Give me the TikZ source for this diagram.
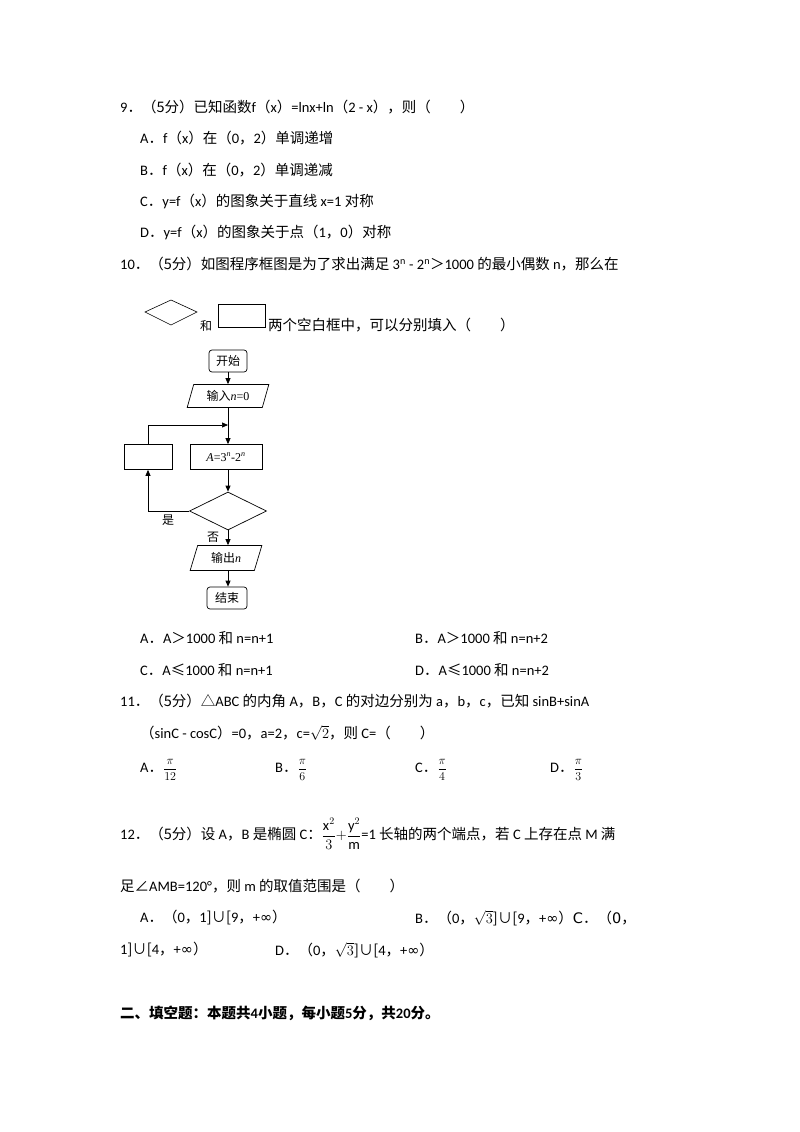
\documentclass[tikz,border=0pt]{standalone}
\usepackage{amsmath}
\usepackage{fontspec}
\setmainfont{Carlito}
\newfontfamily\cjk{Noto Sans CJK SC}
\newfontfamily\srf{Liberation Serif}
\newfontfamily\sym{DejaVu Sans}
\usetikzlibrary{shapes.geometric,arrows.meta}
\newcommand{\zh}[1]{{\cjk #1}}
\newcommand{\dt}{{\cjk ．}}
\begin{document}
\begin{tikzpicture}[x=1pt,y=-1pt,
  t/.style={anchor=west,inner sep=0pt,font=\fontsize{14.5}{16}\selectfont},
  fb/.style={draw,line width=0.7pt,font=\fontsize{12}{14}\selectfont},
  pg/.style={fb,trapezium,trapezium left angle=72,trapezium right angle=108,trapezium stretches=true,inner sep=1pt},
  arr/.style={-{Triangle[length=6pt,width=5pt]},line width=0.7pt}]
\useasboundingbox (0,0) rectangle (800,1132);
\fill[white] (0,0) rectangle (800,1132);
\node[t] (q9) at (120,107) {9\dt\zh{（5分）已知函数}f\zh{（}x\zh{）}=lnx+ln\zh{（}2 - x\zh{），则（\hspace{2em}）}};
\node[t] (q9a) at (140,138) {A\dt f\zh{（}x\zh{）在（}0\zh{，}2\zh{）单调递增}};
\node[t] (q9b) at (140,170) {B\dt f\zh{（}x\zh{）在（}0\zh{，}2\zh{）单调递减}};
\node[t] (q9c) at (140,201) {C\dt y=f\zh{（}x\zh{）的图象关于直线} x=1 \zh{对称}};
\node[t] (q9d) at (140,232) {D\dt y=f\zh{（}x\zh{）的图象关于点（}1\zh{，}0\zh{）对称}};
\node[t] (q10) at (120,264) {10\dt\zh{（5分）如图程序框图是为了求出满足} 3\textsuperscript{n} - 2\textsuperscript{n}\zh{＞}1000 \zh{的最小偶数} n\zh{，那么在}};
\draw[line width=0.6pt] (145,312) -- (171,300) -- (197,312) -- (171,325) -- cycle;
\node[t,font=\fontsize{12}{14}\selectfont] (he) at (200,326) {\zh{和}};
\draw[line width=0.6pt] (218,304) rectangle (265,327);
\node[t] (q10b) at (268,325) {\zh{两个空白框中，可以分别填入（\hspace{2em}）}};
% flowchart
\node[fb,rounded corners=3pt,minimum width=38pt,minimum height=22pt,inner sep=1pt] (st) at (228,361) {\zh{开始}};
\node[pg,minimum width=82pt,minimum height=23pt] (in) at (228,396) {\zh{输入}\srf\itshape n\upshape=0};
\coordinate (j) at (228,425);
\node[fb,minimum width=72pt,minimum height=25pt,inner sep=1pt] (A) at (226,457) {\srf\itshape A\upshape=3\textsuperscript{\itshape n}-2\textsuperscript{\itshape n}};
\node[fb,minimum width=48pt,minimum height=25pt] (L) at (148,457) {};
\node[fb,diamond,aspect=2,minimum width=77pt,minimum height=38pt,inner sep=0pt] (d) at (228,511) {};
\node[pg,minimum width=72pt,minimum height=25pt] (out) at (226,558) {\zh{输出}\srf\itshape n};
\node[fb,rounded corners=3pt,minimum width=40pt,minimum height=22pt,inner sep=1pt] (en) at (227,598) {\zh{结束}};
\draw[arr] (st) -- (in);
\draw[line width=0.7pt] (in.south -| j) -- (j);
\draw[arr] (j) -- (A.north -| j);
\draw[arr] (A.south -| d.north) -- (d.north);
\draw[arr] (d.west) -| (L.south);
\draw[arr] (L.north) |- (j);
\draw[arr] (d.south) -- (out.north -| d.south);
\draw[arr] (out.south -| d.south) -- (en.north -| d.south);
\node[font=\fontsize{12}{14}\selectfont,inner sep=0pt] (yes) at (168,520) {\zh{是}};
\node[font=\fontsize{12}{14}\selectfont,inner sep=0pt] (no) at (213,537) {\zh{否}};
% answers 10
\node[t] (a10a) at (140,638) {A\dt A\zh{＞}1000 \zh{和} n=n+1};
\node[t] (a10b) at (415,638) {B\dt A\zh{＞}1000 \zh{和} n=n+2};
\node[t] (a10c) at (140,670) {C\dt A\zh{≤}1000 \zh{和} n=n+1};
\node[t] (a10d) at (415,670) {D\dt A\zh{≤}1000 \zh{和} n=n+2};
% 11
\node[t] (q11) at (120,701) {11\dt\zh{（5分）}\zh{△}ABC \zh{的内角} A\zh{，}B\zh{，}C \zh{的对边分别为} a\zh{，}b\zh{，}c\zh{，已知} sinB+sinA};
\node[t] (q11b) at (140,733) {\zh{（}sinC - cosC\zh{）}=0\zh{，}a=2\zh{，}c=$\sqrt{2}$\zh{，则} C=\zh{（\hspace{2em}）}};
\node[t] (a11a) at (140,770) {A\dt{\large$\dfrac{\pi}{12}$}};
\node[t] (a11b) at (275,770) {B\dt{\large$\dfrac{\pi}{6}$}};
\node[t] (a11c) at (415,770) {C\dt{\large$\dfrac{\pi}{4}$}};
\node[t] (a11d) at (550,770) {D\dt{\large$\dfrac{\pi}{3}$}};
% 12
\node[t] (q12) at (120,834) {12\dt\zh{（5分）设} A\zh{，}B \zh{是椭圆} C\zh{：}$\dfrac{\mathrm{x}^2}{3}{+}\dfrac{\mathrm{y}^2}{\mathrm{m}}$=1 \zh{长轴的两个端点，若} C \zh{上存在点} M \zh{满}};
\node[t] (q12b) at (120,886) {\zh{足∠}AMB=120°\zh{，则} m \zh{的取值范围是（\hspace{2em}）}};
\node[t] (a12a) at (140,918) {A\dt\zh{（}0\zh{，}1\zh{]∪[}9\zh{，}+\sym∞\zh{）}};
\node[t] (a12b) at (415,918) {B\dt\zh{（}0\zh{，}$\sqrt{3}$\zh{]∪[}9\zh{，}+\sym∞\zh{）}C\dt\zh{（}0\zh{，}};
\node[t] (a12c) at (120,950) {1\zh{]∪[}4\zh{，}+\sym∞\zh{）}};
\node[t] (a12d) at (275,950) {D\dt\zh{（}0\zh{，}$\sqrt{3}$\zh{]∪[}4\zh{，}+\sym∞\zh{）}};
\node[t,font=\fontsize{14.5}{16}\selectfont\bfseries] (sec) at (120,1013) {\zh{\bfseries 二、填空题：本题共}4\zh{\bfseries 小题，每小题}5\zh{\bfseries 分，共}20\zh{\bfseries 分。}};
\end{tikzpicture}
\end{document}
